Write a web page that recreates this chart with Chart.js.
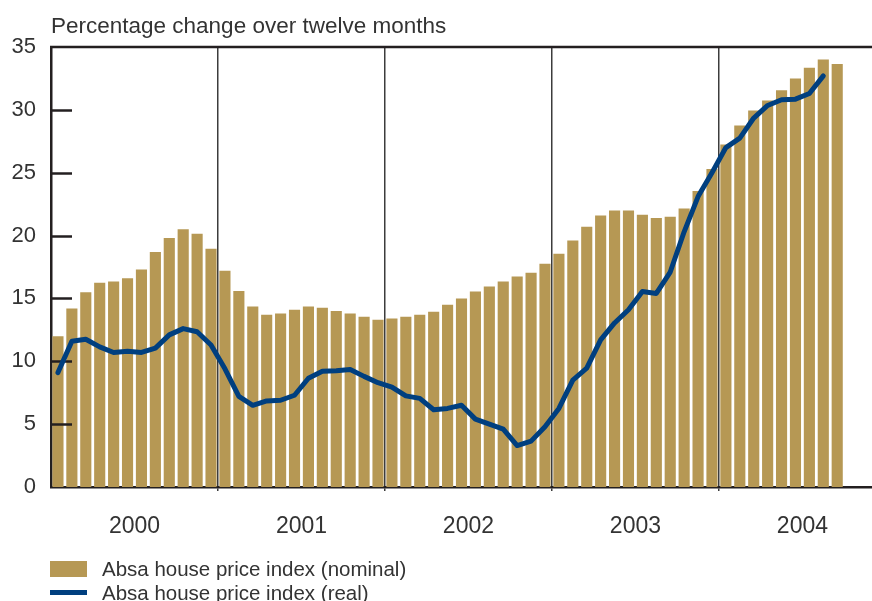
<!DOCTYPE html>
<html>
<head>
<meta charset="utf-8">
<script src="https://cdn.jsdelivr.net/npm/chart.js@4"></script>
<style>
  html, body { margin: 0; padding: 0; background: #fff; overflow: hidden; }
  #wrap { position: relative; width: 872px; height: 601px; }
  #legend { position: absolute; left: 0; top: 0; font-family: 'Liberation Sans', Arial, sans-serif; font-size: 20.5px; color: #333; }
  .item { position: absolute; white-space: nowrap; }
  .swatch { position: absolute; }
</style>
</head>
<body>
<div id="wrap">
  <canvas id="chart" width="872" height="601"></canvas>
  <div id="legend">
    <div class="swatch" style="left:50px; top:561px; width:37px; height:16px; background:#b69854;"></div>
    <div class="item" style="left:102px; top:557px; line-height:24px;">Absa house price index (nominal)</div>
    <div class="swatch" style="left:50px; top:590px; width:37px; height:5px; background:#003f7f;"></div>
    <div class="item" style="left:102px; top:581px; line-height:24px;">Absa house price index (real)</div>
  </div>
</div>
<script>
// chart values
const years = ['2000', '2001', '2002', '2003', '2004'];
const months = ['Jan', 'Feb', 'Mar', 'Apr', 'May', 'Jun', 'Jul', 'Aug', 'Sep', 'Oct', 'Nov', 'Dec'];
const yTicks = [0, 5, 10, 15, 20, 25, 30, 35];

const nominal = [
  12.0, 14.2, 15.5, 16.25, 16.35, 16.6, 17.3, 18.7, 19.8, 20.5, 20.15, 18.95,
  17.2, 15.6, 14.35, 13.7, 13.8, 14.1, 14.35, 14.25, 14.0, 13.8, 13.55, 13.3,
  13.4, 13.55, 13.7, 13.95, 14.5, 15.0, 15.55, 15.95, 16.35, 16.75, 17.05, 17.75,
  18.55, 19.6, 20.7, 21.6, 22.0, 22.0, 21.65, 21.4, 21.5, 22.15, 23.55, 25.3,
  27.25, 28.75, 29.95, 30.75, 31.55, 32.5, 33.35, 34.0, 33.65
];

const real = [
  9.1, 11.6, 11.75, 11.15, 10.7, 10.8, 10.7, 11.05, 12.1, 12.6, 12.35, 11.3,
  9.4, 7.2, 6.5, 6.85, 6.9, 7.3, 8.65, 9.2, 9.25, 9.35, 8.8, 8.3,
  7.95, 7.25, 7.05, 6.15, 6.25, 6.5, 5.4, 5.0, 4.6, 3.3, 3.65, 4.8,
  6.25, 8.5, 9.45, 11.7, 13.05, 14.1, 15.55, 15.4, 17.1, 20.3, 23.1, 25.0,
  27.0, 27.75, 29.35, 30.35, 30.8, 30.85, 31.3, 32.7
];

// the visible window ends in Nov 2004
const categories = [];
years.forEach(y => months.forEach(m => categories.push(m + ' ' + y)));
categories.length = 59;

const dark = '#231f20';
const textColor = '#333333';
const fontFamily = "'Liberation Sans', Arial, sans-serif";

// frame, inward y ticks
const framePlugin = {
  id: 'frame',
  afterDatasetDraw(chart, args) {
    if (args.index !== 0) return;
    const { ctx, chartArea, scales } = chart;
    ctx.save();
    ctx.strokeStyle = dark;
    ctx.lineWidth = 2.5;
    yTicks.slice(1, -1).forEach(v => {
      const y = Math.round(scales.y.getPixelForValue(v)) + 0.5;
      ctx.beginPath();
      ctx.moveTo(chartArea.left, y);
      ctx.lineTo(chartArea.left + 21, y);
      ctx.stroke();
    });
    ctx.restore();
  },
  afterDraw(chart) {
    const { ctx, chartArea } = chart;
    ctx.save();
    ctx.strokeStyle = dark;
    ctx.lineWidth = 2.5;
    ctx.beginPath();
    ctx.moveTo(chartArea.left - 1, chartArea.top);
    ctx.lineTo(chartArea.right, chartArea.top);
    ctx.stroke();
    ctx.restore();
  }
};

new Chart(document.getElementById('chart'), {
  type: 'bar',
  data: {
    labels: categories,
    datasets: [
      {
        type: 'bar',
        label: 'Absa house price index (nominal)',
        data: nominal,
        backgroundColor: '#b69854',
        barPercentage: 0.8,
        categoryPercentage: 1.0,
        order: 1,
      },
      {
        type: 'line',
        label: 'Absa house price index (real)',
        data: real,
        borderColor: '#003f7f',
        borderWidth: 5,
        pointRadius: 0,
        tension: 0,
        borderJoinStyle: 'round',
        borderCapStyle: 'round',
        order: 0,
      },
    ],
  },
  options: {
    responsive: false,
    animation: false,
    events: [],
    layout: { padding: { left: 0, right: 0, top: 0, bottom: 49 } },
    plugins: {
      legend: { display: false },
      tooltip: { enabled: false },
      title: {
        display: true,
        text: 'Percentage change over twelve months',
        align: 'start',
        fullSize: false,
        color: textColor,
        font: { family: fontFamily, size: 22.5, weight: 'normal' },
        padding: { top: 13, bottom: 7 },
      },
    },
    scales: {
      x: {
        type: 'category',
        position: 'bottom',
        weight: 0,
        offset: true,
        grid: {
          offset: true,
          drawTicks: true,
          tickLength: 4,
          lineWidth: 1.5,
          color: (c) => [12, 24, 36, 48].includes(c.index) ? '#3c3c3c' : 'rgba(0,0,0,0)',
        },
        border: { display: true, color: dark, width: 2.5 },
        ticks: { display: false, autoSkip: false },
        afterFit: (s) => { s.height = 5; },
      },
      // year labels: 0 = middle of 2000, one unit per month
      yr: {
        type: 'linear',
        position: 'bottom',
        weight: 1,
        min: -6,
        max: 53,
        offset: false,
        grid: { display: false, drawTicks: false, offset: false },
        border: { display: false },
        ticks: {
          stepSize: 12,
          autoSkip: false,
          padding: 21,
          color: textColor,
          font: { family: fontFamily, size: 23 },
          callback: (v) => (v >= 0 && v % 12 === 0) ? years[v / 12] : '',
        },
        afterFit: (s) => {
          s.height = 60;
          s.paddingLeft = 0;
          s.paddingRight = 0;
        },
      },
      y: {
        min: 0,
        max: 35,
        grid: { display: false, drawTicks: false },
        border: { display: true, color: dark, width: 2.5 },
        ticks: {
          stepSize: 5,
          padding: 15,
          color: textColor,
          font: { family: fontFamily, size: 22 },
        },
        afterFit: (s) => { s.width = 51; },
      },
    },
  },
  plugins: [framePlugin],
});
</script>
</body>
</html>
